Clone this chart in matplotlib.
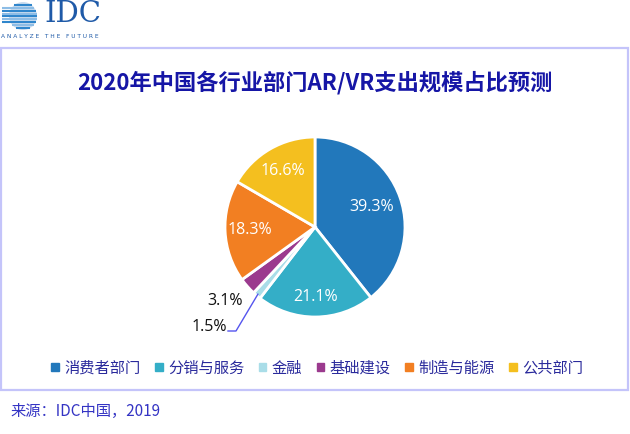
import matplotlib
matplotlib.use("Agg")
import matplotlib.pyplot as plt
import numpy as np
from matplotlib.patches import Rectangle, Circle

plt.rcParams['font.family'] = ['Noto Sans CJK SC', 'DejaVu Sans']

categories = ['消费者部门', '分销与服务', '金融', '基础建设', '制造与能源', '公共部门']
values = [39.3, 21.1, 1.5, 3.1, 18.3, 16.6]
labels = ['39.3%', '21.1%', '1.5%', '3.1%', '18.3%', '16.6%']
colors = ['#2278bb', '#34aec7', '#a9dde8', '#9b3a8e', '#f27f22', '#f4bf1f']
title = '2020年中国各行业部门AR/VR支出规模占比预测'
source = '来源：IDC中国，2019'

W, H = 630, 434
fig = plt.figure(figsize=(W / 100, H / 100), dpi=100)
fig.patch.set_facecolor('white')

def px(x, y):
    return x / W, 1 - y / H

# frame
fig.patches.append(Rectangle(px(1, 390), 627 / W, (390 - 48) / H, transform=fig.transFigure,
                             fill=False, edgecolor='#c4c4fa', linewidth=1.6))

# logo
lax = fig.add_axes([0, 1 - 32 / H, 42 / W, 32 / H])
lax.set_xlim(0, 42); lax.set_ylim(0, 32); lax.axis('off')
lax.add_patch(Circle((23, 16), 14, color='#2a74c0', alpha=0.25, lw=0))
for i, yy in enumerate(np.linspace(4, 30, 10)):
    half = np.sqrt(max(14 ** 2 - (yy - 16) ** 2, 0))
    x0 = 2 if 8 < yy < 26 else 23 - half
    lax.plot([x0, 23 + half], [yy, yy], color='#2f86cc' if i % 2 == 0 else '#8dbde6', lw=1.5,
             solid_capstyle='butt')
fig.text(*px(44, 14), 'IDC', family='DejaVu Serif', fontsize=21, color='#1f5aa8', va='center', ha='left')
fig.text(*px(1, 37), 'A N A L Y Z E   T H E   F U T U R E', family='DejaVu Sans', fontsize=4.2,
         color='#1f5aa8', va='center', ha='left')

# title
fig.text(*px(315, 83), title, fontsize=16, fontweight='bold', color='#1616a6', ha='center', va='center')

# pie
cx, cy, r = 315, 227, 90
ax = fig.add_axes([(cx - r) / W, (H - cy - r) / H, 2 * r / W, 2 * r / H])
wedges, _ = ax.pie(values, colors=colors, startangle=90, counterclock=False,
                   wedgeprops=dict(edgecolor='white', linewidth=2))
ax.set_xlim(-1, 1); ax.set_ylim(-1, 1); ax.set_aspect('equal')

label_r = [0.67, 0.78, None, None, 0.72, 0.72]
for w, lab, lr in zip(wedges, labels, label_r):
    ang = np.deg2rad((w.theta1 + w.theta2) / 2)
    if lr is not None:
        ax.text(lr * np.cos(ang), lr * np.sin(ang), lab, ha='center', va='center',
                color='white', fontsize=11.5, family=['Open Sans', 'DejaVu Sans'])

# outside labels
fig.text(*px(243, 301), labels[3], ha='right', va='center', fontsize=11.5, color='#111111',
         family=['Open Sans', 'DejaVu Sans'])
w15 = wedges[2]
ang = np.deg2rad((w15.theta1 + w15.theta2) / 2)
ex, ey = np.cos(ang) * 0.98, np.sin(ang) * 0.98
p0 = ax.transData.transform((ex, ey))
fx0, fy0 = fig.transFigure.inverted().transform(p0)
fig.lines.append(plt.Line2D([fx0, 236 / W, 228 / W], [fy0, 1 - 331 / H, 1 - 331 / H],
                            transform=fig.transFigure, color='#5555ee', lw=1))
fig.text(*px(227, 327), labels[2], ha='right', va='center', fontsize=11.5, color='#111111',
         family=['Open Sans', 'DejaVu Sans'])

# legend
handles = [Rectangle((0, 0), 1, 1, color=c) for c in colors]
leg = fig.legend(handles, categories, loc='center', bbox_to_anchor=(317 / W, 1 - 368 / H), ncol=6,
                 frameon=False, handlelength=0.5, handleheight=0.5, handletextpad=0.35,
                 columnspacing=0.95, fontsize=11)
for t in leg.get_texts():
    t.set_color('#2a2a9c')

# source
fig.text(*px(10, 411), source, ha='left', va='center', fontsize=11, color='#3434c4')

fig.savefig('out.png', dpi=100)
